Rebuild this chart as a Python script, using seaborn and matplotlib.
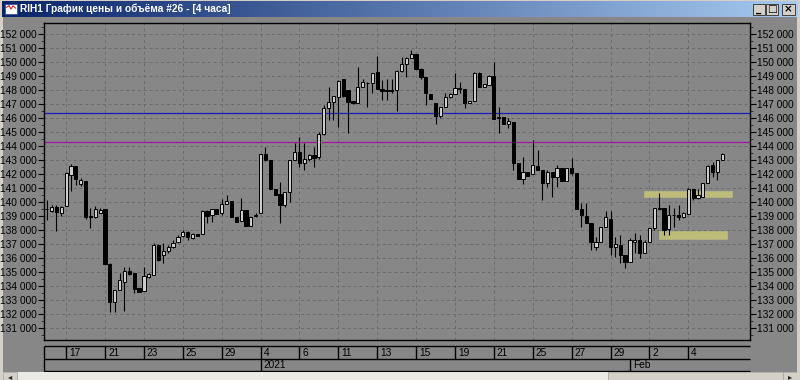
import numpy as np
import pandas as pd
import matplotlib
matplotlib.use("Agg")
import matplotlib.pyplot as plt
from matplotlib.patches import Rectangle
from matplotlib.colors import LinearSegmentedColormap
from matplotlib.ticker import FuncFormatter, MultipleLocator, FixedLocator
import seaborn as sns

# ---------------- data (4-hour candles, RIH1) ----------------
opens = [139480, 139380, 139620, 139190, 139740, 141930, 142570, 141290, 141480, 139000,
         138900, 139240, 139520, 135570, 132830, 133710, 134310, 135100, 134900, 133880,
         133670, 134670, 134760, 136950, 136240, 136480, 136760, 137140, 137570, 137880,
         137400, 137690, 137710, 139360, 139070, 139480, 139190, 139860, 140070, 138900,
         138670, 139430, 138310, 139000, 139190, 143430, 143000, 140900, 140570, 139790,
         140690, 143000, 143600, 142760, 143050, 143360, 143240, 144830, 146690, 147170,
         147520, 148760, 148000, 147210, 147100, 148240, 148520, 148480, 149260, 148050,
         147980, 147990, 148000, 149380, 149860, 150260, 150550, 149480, 148900, 147710,
         147050, 146140, 146810, 147480, 147710, 148120, 148070, 147050, 147240, 149240,
         148240, 148360, 149000, 146050, 146050, 145570, 145690, 142760, 141640, 142170,
         141980, 142570, 142290, 141330, 142120, 141810, 142400, 141520, 142400, 142050,
         139480, 139000, 138480, 136760, 137170, 138240, 138790, 136760, 136930, 136210,
         135740, 137170, 137290, 136380, 137170, 138120, 139500, 139550, 138050, 139050,
         139070, 138950, 139140, 140900, 140260, 140380, 141330, 142640, 142170, 143000]
closes = [139500, 139620, 139260, 139620, 142050, 142570, 141620, 141570, 138950, 138900,
          139480, 139430, 135570, 132830, 133710, 134430, 135100, 134860, 133760, 133600,
          134710, 134860, 136950, 135860, 136480, 136760, 137100, 137520, 137880, 137480,
          137710, 137570, 139360, 139000, 139480, 139140, 139860, 140070, 138900, 138600,
          139430, 138310, 138950, 139100, 143430, 143000, 140900, 140500, 139790, 140690,
          143000, 143600, 142760, 143050, 143360, 143120, 144830, 146690, 147170, 147570,
          148670, 147570, 147170, 147050, 148240, 148550, 148480, 149190, 148050, 147950,
          147950, 147960, 149380, 149860, 150260, 150550, 149480, 148950, 147760, 147330,
          146140, 146810, 147480, 147710, 148120, 148100, 147050, 147240, 149240, 148240,
          148430, 149000, 145950, 146000, 145570, 145790, 142760, 141640, 142170, 141860,
          142640, 142290, 141330, 142170, 141810, 142400, 141520, 142400, 142050, 139480,
          139070, 138520, 137170, 137170, 138240, 138900, 136760, 137000, 136210, 135740,
          137290, 137290, 136380, 137170, 138120, 139550, 139550, 138000, 139070, 139070,
          138900, 139240, 140900, 140260, 140500, 141330, 142570, 142170, 143000, 143430]
highs = [140140, 139790, 139790, 139720, 142120, 142720, 142600, 141690, 141480, 139550,
         139720, 139550, 139520, 135620, 133710, 134900, 135380, 135380, 134900, 133880,
         135380, 134900, 137050, 137000, 137050, 136930, 137290, 137620, 137980, 137930,
         137760, 137690, 139430, 139430, 139480, 139480, 140190, 140480, 140070, 138900,
         140260, 139430, 138950, 139190, 143430, 143900, 143000, 140900, 141450, 140690,
         143000, 144190, 144670, 144190, 143400, 143950, 145000, 146900, 148240, 147600,
         148710, 148810, 148000, 147210, 149670, 148810, 148550, 149190, 150430, 148710,
         148760, 148760, 149430, 150380, 150380, 150860, 150550, 149550, 148950, 147710,
         147050, 146810, 147810, 147760, 149190, 148600, 148070, 147240, 149310, 149310,
         148430, 149070, 150020, 146810, 146050, 145980, 145740, 142760, 143190, 142170,
         144430, 143710, 142290, 142290, 142120, 142640, 142400, 142400, 143120, 142050,
         139900, 139900, 138480, 137520, 138240, 139380, 139380, 137520, 137640, 136210,
         137400, 137760, 137640, 137290, 138120, 139550, 140620, 139550, 139790, 139550,
         139790, 139310, 140980, 140900, 140900, 141330, 142640, 142880, 143000, 143480]
lows = [138720, 139310, 137950, 139000, 139740, 140810, 141220, 141170, 138760, 138120,
        138830, 139190, 135500, 132170, 132120, 133710, 132240, 134800, 133480, 133550,
        133670, 134600, 134760, 135810, 135670, 136330, 136700, 137050, 137520, 137290,
        137380, 137570, 137710, 138480, 138600, 139140, 139070, 139860, 138900, 138550,
        138670, 138310, 138310, 138900, 139190, 142950, 140900, 140500, 138480, 139620,
        140020, 143000, 142520, 142290, 142900, 142520, 143100, 144800, 145860, 145860,
        145330, 147520, 144900, 147000, 147050, 148200, 146810, 147760, 148050, 147290,
        147290, 147760, 146520, 149310, 148950, 150260, 149480, 148760, 146930, 147330,
        145570, 145980, 146810, 147450, 147710, 147760, 146690, 147050, 147240, 148190,
        148240, 148360, 145900, 144950, 145570, 145260, 142290, 141640, 141290, 141860,
        141980, 142290, 140140, 141100, 140330, 141100, 141520, 141520, 141950, 139480,
        138240, 138480, 136570, 136570, 137170, 138240, 136210, 136100, 135620, 135260,
        135740, 136330, 135980, 136330, 137170, 138000, 139450, 137640, 137640, 138240,
        138710, 138830, 139140, 140140, 140190, 140330, 141330, 141810, 141570, 143000]

# horizontal levels
level_values = [146330, 144260]
level_colors = ["#1a1ab8", "#a012a0"]

# highlighted zones (start candle, end candle, low, high)
zone_start = [122.9, 126.0]
zone_end = [140.9, 139.9]
zone_low = [140380, 137360]
zone_high = [140810, 137950]

# x-axis labels
date_ticks = [4, 12, 20, 28, 36, 44, 52, 60, 68, 76, 84, 92, 100, 108, 116, 124, 132]
date_labels = ["17", "21", "23", "25", "29", "4", "6", "11", "13", "15", "19", "21",
               "25", "27", "29", "2", "4"]
period_ticks = [44, 120]
period_labels = ["2021", "Feb"]

title_text = "RIH1 График цены и объёма #26 - [4 часа]"

# ---------------- style ----------------
sns.set_style("ticks")
plt.rcParams["font.family"] = ["Liberation Sans", "DejaVu Sans"]
plt.rcParams["font.size"] = 7

W, H = 800, 380
BG = "#878787"
WIN = "#D4D0C8"
GRID = "#6c6c6c"
UPFILL = "#cccccc"

fig = plt.figure(figsize=(8, 3.8), dpi=100)
fig.patch.set_facecolor(WIN)


def px_axes(x0, y0, x1, y1, **kw):
    return fig.add_axes([x0 / W, 1 - y1 / H, (x1 - x0) / W, (y1 - y0) / H], **kw)


fig.add_artist(Rectangle((3 / W, 1 - 372 / H), 794 / W, 355 / H, transform=fig.transFigure,
                         facecolor=BG, edgecolor="none", zorder=-5))

# ---------------- title bar ----------------
tax = px_axes(2, 1, 798, 17)
cmap = LinearSegmentedColormap.from_list("tb", ["#0A246A", "#A6CAF0"])
tax.imshow(np.linspace(0, 1, 256)[None, :], aspect="auto", cmap=cmap, extent=(0, 1, 0, 1))
tax.set_xlim(0, 1)
tax.set_ylim(0, 1)
tax.axis("off")
tax.text(18 / 796, 0.5, title_text, color="white", fontweight="bold", fontsize=7.3,
         va="center", ha="left", transform=tax.transAxes)
# icon
tax.add_patch(Rectangle((3 / 796, 0.18), 12 / 796, 0.64, facecolor="white", edgecolor="#3050a0", lw=0.6))
tax.plot(np.array([4.5, 7, 9, 11, 13.5]) / 796, [0.6, 0.72, 0.5, 0.7, 0.55], color="#d02020", lw=0.8)
# buttons
for (bx0, bx1), sym in zip([(751, 763), (764, 776), (780, 793)], ["_", "□", "×"]):
    tax.add_patch(Rectangle((bx0 / 796, 0.12), (bx1 - bx0) / 796, 0.72, facecolor=WIN,
                            edgecolor="#404040", lw=0.7))
    tax.text((bx0 + bx1) / 2 / 796, 0.47, sym, color="black", fontsize=7.5, fontweight="bold",
             ha="center", va="center", family=["DejaVu Sans"])

# ---------------- main chart ----------------
ax = px_axes(44, 23, 750, 340)
ax.set_facecolor(BG)

df = pd.DataFrame({"o": opens, "h": highs, "l": lows, "c": closes})
df["i"] = np.arange(len(df))
up = df["c"] >= df["o"]
body_bottom = np.minimum(df["o"], df["c"])
body_height = np.maximum((df["c"] - df["o"]).abs(), 40)

ax.vlines(df["i"], df["l"], df["h"], color="black", lw=0.8, zorder=3)
ax.bar(df["i"][up], body_height[up], bottom=body_bottom[up], width=0.66,
       color=UPFILL, edgecolor="black", lw=0.7, zorder=4)
ax.bar(df["i"][~up], body_height[~up], bottom=body_bottom[~up], width=0.66,
       color="black", edgecolor="black", lw=0.7, zorder=4)

for lv, lc in zip(level_values, level_colors):
    ax.axhline(lv, color=lc, lw=0.9, zorder=2)

for zs, ze, zl, zh in zip(zone_start, zone_end, zone_low, zone_high):
    ax.add_patch(Rectangle((zs, zl), ze - zs, zh - zl, facecolor="#bdbc78", edgecolor="#c9c888",
                           lw=0.6, ls=(0, (1, 1)), zorder=2.5))

ax.set_xlim(-0.556, 144.7)
ax.set_ylim(130143, 152786)

ax.yaxis.set_major_locator(MultipleLocator(1000))
ax.yaxis.set_minor_locator(MultipleLocator(500))
ax.yaxis.set_major_formatter(FuncFormatter(lambda v, p: f"{int(round(v)):,}".replace(",", " ")))
ax.xaxis.set_major_locator(FixedLocator(date_ticks))
ax.set_xticklabels([])
ax.tick_params(axis="x", which="both", length=0)
ax.tick_params(axis="y", which="major", left=True, right=True, labelleft=True, labelright=True,
               direction="out", length=4, width=0.8, pad=1, labelsize=7.3, colors="black")
ax.tick_params(axis="y", which="minor", left=True, right=True, direction="out", length=2, width=0.6)
ax.grid(True, which="major", axis="both", color=GRID, lw=0.7, ls=(0, (3, 3)))
ax.set_axisbelow(True)
for s in ax.spines.values():
    s.set_color("black")
    s.set_linewidth(1.0)
    s.set_visible(True)

# ---------------- date strip ----------------
dax = px_axes(44, 346, 750, 371)
dax.set_xlim(ax.get_xlim())
dax.set_ylim(0, 2)
dax.axis("off")
x0, x1 = ax.get_xlim()
dax.hlines([0, 1, 2], x0, x1, color="black", lw=1.0, clip_on=False)
dax.vlines([x0], 0, 2, color="black", lw=1.0, clip_on=False)
dax.vlines(date_ticks, 1, 2, color="black", lw=1.0, clip_on=False)
dax.vlines(period_ticks, 0, 1, color="black", lw=1.0, clip_on=False)
for pos, lab in zip(date_ticks, date_labels):
    dax.text(pos + 0.6, 1.48, lab, ha="left", va="center", fontsize=7.3, color="black")
for pos, lab in zip(period_ticks, period_labels):
    dax.text(pos + 0.6, 0.48, lab, ha="left", va="center", fontsize=7.3, color="black")

# ---------------- scrollbar ----------------
sax = px_axes(3, 372, 797, 380)
sax.set_xlim(0, 794)
sax.set_ylim(0, 1)
sax.axis("off")
sax.add_patch(Rectangle((0, 0), 794, 1, facecolor="#ebe9e4", edgecolor="none"))
sax.add_patch(Rectangle((605, 0), 175, 1, facecolor=WIN, edgecolor="#a0a0a0", lw=0.5))
for bx in (0, 780):
    sax.add_patch(Rectangle((bx, 0), 14, 1, facecolor=WIN, edgecolor="#a0a0a0", lw=0.5))
sax.text(7, 0.45, "◂", ha="center", va="center", fontsize=6, family=["DejaVu Sans"])
sax.text(787, 0.45, "▸", ha="center", va="center", fontsize=6, family=["DejaVu Sans"])

fig.savefig("out.png", dpi=100, facecolor=fig.get_facecolor())
